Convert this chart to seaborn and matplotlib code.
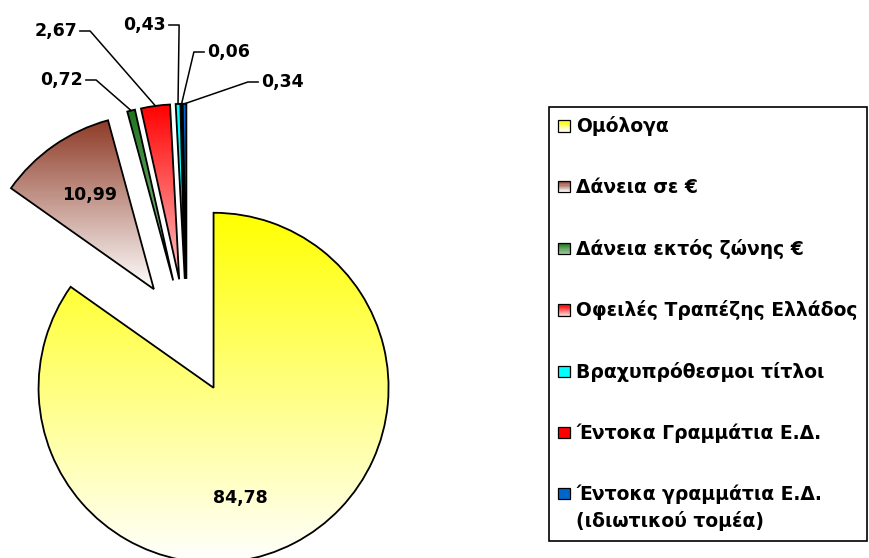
import numpy as np
import matplotlib
matplotlib.use("Agg")
import matplotlib.pyplot as plt
import seaborn as sns
from matplotlib.colors import LinearSegmentedColormap, to_rgb
from matplotlib.patches import Rectangle, Patch
from matplotlib.legend_handler import HandlerBase

# -----------------------------------------------------
# DATA
# -----------------------------------------------------

categories = [
    "Ομόλογα",
    "Δάνεια σε €",
    "Δάνεια εκτός ζώνης €",
    "Οφειλές Τραπέζης Ελλάδος",
    "Βραχυπρόθεσμοι τίτλοι",
    "Έντοκα Γραμμάτια Ε.Δ.",
    "Έντοκα γραμμάτια Ε.Δ.\n(ιδιωτικού τομέα)",
]
values = [84.78, 10.99, 0.72, 2.67, 0.43, 0.06, 0.34]
value_labels = ["84,78", "10,99", "0,72", "2,67", "0,43", "0,06", "0,34"]

# gradient colours per slice (top -> bottom)
top_colors = ["#FFFF00", "#8E3B27", "#1C741C", "#FF0000", "#00FFFF", "#FF0000", "#0066CC"]
bottom_colors = ["#FFFFFF", "#FFFFFF", "#9CCB9C", "#FFC4C4", "#00FFFF", "#FF0000", "#0066CC"]

# -----------------------------------------------------
# STYLE
# -----------------------------------------------------

sns.set_style("white")
plt.rcParams["font.family"] = ["DejaVu Sans"]
plt.rcParams["font.weight"] = "bold"
plt.rcParams["text.color"] = "black"

FS = 12.5          # value labels
FS_LEG = 13.5      # legend
R = 175.0          # pie radius in pixels
CX, CY = 187.0, 336.5   # pie centre in pixels (from top-left)
W, H = 869, 558

fig = plt.figure(figsize=(W / 100, H / 100), dpi=100)
ax = fig.add_axes([0, 0, 1, 1])

wedges, _ = ax.pie(
    values,
    startangle=90,
    counterclock=False,
    explode=[0.33] * len(values),
    radius=1,
    wedgeprops=dict(edgecolor="black", linewidth=1.3, facecolor="none"),
)

# vertical gradient fill, clipped to each wedge
grad = np.linspace(0, 1, 256).reshape(-1, 1)
for w, c_top, c_bot in zip(wedges, top_colors, bottom_colors):
    bb = w.get_path().get_extents()
    cmap = LinearSegmentedColormap.from_list("g", [c_bot, c_top])
    im = ax.imshow(grad, cmap=cmap, extent=[bb.x0, bb.x1, bb.y0, bb.y1],
                   origin="lower", aspect="auto", zorder=0.5, interpolation="bilinear")
    im.set_clip_path(w)


def px(x, y):
    # pixel position -> data units of the pie
    return (x - CX) / R, (CY - y) / R


# -----------------------------------------------------
# VALUE LABELS
# -----------------------------------------------------

inside_pos = {0: px(240, 498), 1: px(90, 195)}
for i, pos in inside_pos.items():
    ax.text(pos[0], pos[1], value_labels[i], ha="center", va="center",
            fontsize=FS, fontweight="bold", color="black")

# small slices: text position (pixels), side of the text
outside_pos = {
    2: ((83, 80), "right"),
    3: ((77, 31), "right"),
    4: ((166, 25), "right"),
    5: ((207, 52), "left"),
    6: ((261, 82), "left"),
}
for i, ((tx, ty), side) in outside_pos.items():
    w = wedges[i]
    mid = np.deg2rad((w.theta1 + w.theta2) / 2)
    ex = w.center[0] + w.r * np.cos(mid)
    ey = w.center[1] + w.r * np.sin(mid)
    x0, y0 = px(tx, ty)
    gap = 0.015 if side == "right" else -0.015
    elbow = x0 + gap + (0.06 if side == "right" else -0.06)
    ax.plot([x0 + gap, elbow, ex], [y0, y0, ey], color="black", lw=1.1, zorder=3)
    ax.text(x0, y0, value_labels[i], ha=side, va="center",
            fontsize=FS, fontweight="bold", color="black")

ax.set_xlim(-CX / R, (W - CX) / R)
ax.set_ylim(-(H - CY) / R, CY / R)
ax.set_aspect("auto")
ax.axis("off")


# -----------------------------------------------------
# LEGEND WITH GRADIENT SQUARES
# -----------------------------------------------------

class GradientHandler(HandlerBase):
    def create_artists(self, legend, orig_handle, xdescent, ydescent,
                       width, height, fontsize, trans):
        c_top = np.array(to_rgb(orig_handle.c_top))
        c_bot = np.array(to_rgb(orig_handle.c_bot))
        size = min(width, height)
        x0, y0 = -xdescent, -ydescent + orig_handle.shift * fontsize
        n = 10
        out = []
        for k in range(n):
            t = k / (n - 1)
            col = c_bot * (1 - t) + c_top * t
            out.append(Rectangle((x0, y0 + size * k / n), size, size / n,
                                 facecolor=col, edgecolor="none", transform=trans))
        out.append(Rectangle((x0, y0), size, size, facecolor="none",
                             edgecolor="black", lw=0.9, transform=trans))
        return out


handles = []
for i, (c_top, c_bot) in enumerate(zip(top_colors, bottom_colors)):
    p = Patch()
    p.c_top = c_top
    p.c_bot = c_bot
    p.shift = 0.85 if "\n" in categories[i] else 0.0
    handles.append(p)

leg = fig.legend(
    handles, categories,
    handler_map={Patch: GradientHandler()},
    loc="upper left",
    bbox_to_anchor=(549 / W, 1 - 107 / H),
    bbox_transform=fig.transFigure,
    frameon=True, fancybox=False, framealpha=1, edgecolor="black",
    borderaxespad=0, borderpad=0.5,
    labelspacing=2.22,
    handlelength=0.6, handleheight=0.6, handletextpad=0.35,
    prop={"size": FS_LEG, "weight": "bold"},
)
leg.get_frame().set_linewidth(1.2)
for t in leg.get_texts():
    t.set_color("black")
leg.get_texts()[-1].set_linespacing(1.45)

fig.savefig("out.png", dpi=100)
